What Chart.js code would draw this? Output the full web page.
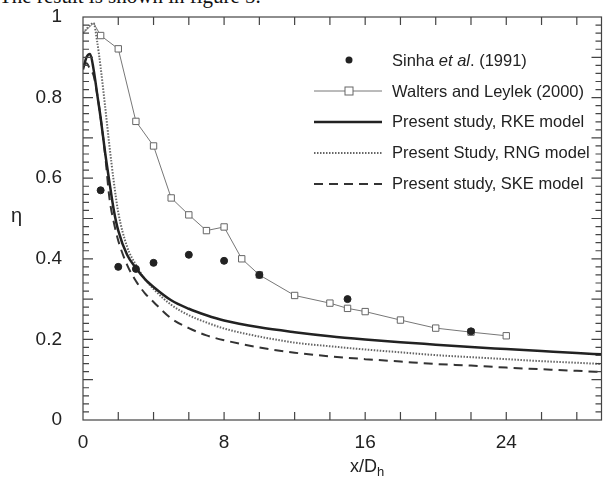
<!DOCTYPE html>
<html lang="en">
<head>
<meta charset="UTF-8">
<title>Film cooling effectiveness</title>
<script src="https://cdn.jsdelivr.net/npm/chart.js"></script>
<style>
  body {
    margin: 0;
    width: 607px;
    height: 482px;
    overflow: hidden;
    background: #fff;
    position: relative;
    font-family: "Liberation Sans", Arial, sans-serif;
    color: #222;
  }
  canvas { position: absolute; left: 0; top: 0; }
  .caption {
    position: absolute; left: -1px; top: -16px;
    font: 21px "Liberation Serif", serif;
    white-space: nowrap; color: #111;
  }
  .ylab { position: absolute; left: 11px; top: 204px; font-size: 20px; }
  .xlab { position: absolute; left: 350px; top: 456px; font-size: 18px; }
  .xlab sub { font-size: 13px; vertical-align: -4px; }
  .legend { position: absolute; left: 314px; top: 45px; font-size: 16.5px; }
  .legend .row { height: 30.8px; display: flex; align-items: center; white-space: nowrap; }
  .legend svg { width: 68px; height: 12px; margin-right: 10px; }
</style>
</head>
<body>
<div class="caption">The result is shown in figure 5.</div>
<canvas id="chart" width="607" height="482"></canvas>
<div class="ylab">η</div>
<div class="xlab">x/D<sub>h</sub></div>
<div class="legend">
  <div class="row"><svg><circle cx="35" cy="6" r="3.5" fill="#222"/></svg><span>Sinha <i>et al</i>. (1991)</span></div>
  <div class="row"><svg><line x1="0" y1="6" x2="68" y2="6" stroke="#777" stroke-width="1"/><rect x="31" y="2" width="8" height="8" fill="#fff" stroke="#666"/></svg><span>Walters and Leylek (2000)</span></div>
  <div class="row"><svg><line x1="0" y1="6" x2="68" y2="6" stroke="#222" stroke-width="2.5"/></svg><span>Present study, RKE model</span></div>
  <div class="row"><svg><line x1="0" y1="6" x2="68" y2="6" stroke="#666" stroke-width="2" stroke-dasharray="1.5 1.5"/></svg><span>Present Study, RNG model</span></div>
  <div class="row"><svg><line x1="0" y1="6" x2="68" y2="6" stroke="#333" stroke-width="2" stroke-dasharray="9 6"/></svg><span>Present study, SKE model</span></div>
</div>

<script>
// axis ticks
var xTicks = [0, 8, 16, 24];
var yTicks = [0, 0.2, 0.4, 0.6, 0.8, 1];
var yTickLabels = ['0', '0.2', '0.4', '0.6', '0.8', '1'];
var X_MAX = 29.4;

// Sinha et al. (1991) measurements
var sinhaX = [1, 2, 3, 4, 6, 8, 10, 15, 22];
var sinhaY = [0.57, 0.38, 0.375, 0.39, 0.41, 0.395, 0.36, 0.30, 0.22];

// Walters and Leylek (2000)
var waltersX = [0, 0.6, 1, 2, 3, 4, 5, 6, 7, 8, 9, 10, 12, 14, 15, 16, 18, 20, 22, 24];
var waltersY = [0.96, 0.985, 0.954, 0.921, 0.741, 0.68, 0.551, 0.509, 0.47, 0.479, 0.40, 0.36,
                0.309, 0.29, 0.277, 0.269, 0.248, 0.228, 0.218, 0.209];

// present study curves
var modelX = [0, 0.2, 0.4, 0.6, 0.8, 1, 1.25, 1.5, 1.75, 2, 2.5, 3, 3.5, 4, 5, 6, 7, 8,
              10, 12, 14, 16, 18, 20, 22, 24, 26, 28, 29.4];
var rkeY = [0.87, 0.90, 0.908, 0.87, 0.81, 0.75, 0.665, 0.59, 0.52, 0.47, 0.41, 0.377, 0.35, 0.33,
            0.297, 0.276, 0.26, 0.247, 0.23, 0.218, 0.208, 0.2, 0.193, 0.187, 0.181, 0.176, 0.171, 0.166, 0.163];
var rngY = [0.96, 0.97, 0.98, 0.985, 0.94, 0.875, 0.78, 0.68, 0.59, 0.515, 0.43, 0.385, 0.35, 0.325,
            0.286, 0.26, 0.242, 0.227, 0.207, 0.192, 0.183, 0.175, 0.168, 0.161, 0.156, 0.151, 0.146, 0.142, 0.139];
var skeY = [0.88, 0.885, 0.87, 0.855, 0.81, 0.75, 0.66, 0.55, 0.49, 0.445, 0.385, 0.345, 0.315, 0.293,
            0.252, 0.228, 0.21, 0.198, 0.18, 0.167, 0.158, 0.151, 0.145, 0.139, 0.135, 0.13, 0.126, 0.122, 0.119];

function pts(xs, ys) {
  return xs.map(function (x, i) { return {x: x, y: ys[i]}; });
}

// frame + inward tick marks on all four sides
var framePlugin = {
  id: 'frame',
  afterDraw: function (chart) {
    var ctx = chart.ctx, a = chart.chartArea;
    var x = chart.scales.x, y = chart.scales.y;
    ctx.save();
    ctx.strokeStyle = '#444';
    ctx.lineWidth = 1.2;
    ctx.strokeRect(a.left, a.top, a.right - a.left, a.bottom - a.top);
    ctx.beginPath();
    for (var v = 2; v < X_MAX; v += 2) {
      var px = x.getPixelForValue(v);
      ctx.moveTo(px, a.bottom); ctx.lineTo(px, a.bottom - 8);
      ctx.moveTo(px, a.top); ctx.lineTo(px, a.top + 8);
    }
    for (var i = 1; i < 50; i++) {
      var py = y.getPixelForValue(i * 0.02);
      var len = i % 5 === 0 ? 10 : 6;
      ctx.moveTo(a.left, py); ctx.lineTo(a.left + len, py);
      ctx.moveTo(a.right, py); ctx.lineTo(a.right - len, py);
    }
    ctx.stroke();
    ctx.restore();
  }
};

var tickFont = {family: '"Liberation Sans", Arial, sans-serif', size: 19};

new Chart(document.getElementById('chart').getContext('2d'), {
  type: 'scatter',
  data: {
    datasets: [{
      label: 'Sinha et al. (1991)',
      data: pts(sinhaX, sinhaY),
      showLine: false,
      pointRadius: 3.5,
      backgroundColor: '#222',
      borderColor: '#222',
      order: 0
    }, {
      label: 'Walters and Leylek (2000)',
      data: pts(waltersX, waltersY),
      showLine: true,
      tension: 0,
      borderColor: '#777',
      borderWidth: 1,
      pointStyle: 'rect',
      pointRadius: waltersX.map(function (x) { return x < 1 ? 0 : 4.5; }),
      pointBackgroundColor: '#fff',
      pointBorderColor: '#666',
      pointBorderWidth: 1,
      order: 1
    }, {
      label: 'Present study, RKE model',
      data: pts(modelX, rkeY),
      showLine: true,
      cubicInterpolationMode: 'monotone',
      borderColor: '#222',
      borderWidth: 2.5,
      pointRadius: 0,
      order: 2
    }, {
      label: 'Present Study, RNG model',
      data: pts(modelX, rngY),
      showLine: true,
      cubicInterpolationMode: 'monotone',
      borderColor: '#666',
      borderWidth: 2,
      borderDash: [1.5, 1.5],
      pointRadius: 0,
      order: 3
    }, {
      label: 'Present study, SKE model',
      data: pts(modelX, skeY),
      showLine: true,
      cubicInterpolationMode: 'monotone',
      borderColor: '#333',
      borderWidth: 2,
      borderDash: [9, 6],
      pointRadius: 0,
      order: 4
    }]
  },
  options: {
    responsive: false,
    animation: false,
    layout: {padding: {left: 0, top: 17, right: 4, bottom: 0}},
    plugins: {legend: {display: false}, tooltip: {enabled: false}},
    scales: {
      x: {
        type: 'linear',
        min: 0,
        max: X_MAX,
        grid: {display: false},
        border: {display: false},
        ticks: {font: tickFont, color: '#222', padding: 3, maxRotation: 0},
        afterBuildTicks: function (s) { s.ticks = xTicks.map(function (v) { return {value: v}; }); },
        afterFit: function (s) { s.height = 62; s.paddingLeft = 0; s.paddingRight = 0; }
      },
      y: {
        min: 0,
        max: 1,
        grid: {display: false},
        border: {display: false},
        ticks: {
          font: tickFont, color: '#222', padding: 13,
          callback: function (v) { return yTickLabels[yTicks.indexOf(v)]; }
        },
        afterBuildTicks: function (s) { s.ticks = yTicks.map(function (v) { return {value: v}; }); },
        afterFit: function (s) { s.width = 83; s.paddingTop = 0; s.paddingBottom = 0; }
      }
    }
  },
  plugins: [framePlugin]
});
</script>
</body>
</html>
